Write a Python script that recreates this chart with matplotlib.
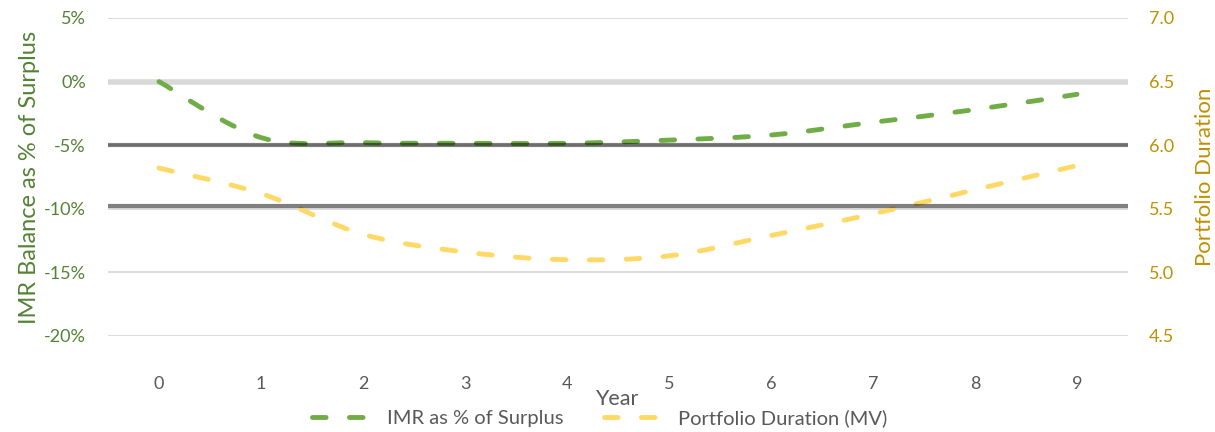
import numpy as np
import matplotlib.pyplot as plt
from matplotlib.path import Path
from matplotlib.patches import PathPatch
from matplotlib.lines import Line2D
from matplotlib.ticker import FuncFormatter

# data
years = [0, 1, 2, 3, 4, 5, 6, 7, 8, 9]
imr_pct_surplus = [0.0, -4.4, -4.8, -4.85, -4.85, -4.6, -4.2, -3.2, -2.2, -1.0]
duration_mv = [5.82, 5.62, 5.30, 5.16, 5.10, 5.13, 5.29, 5.46, 5.65, 5.84]
limit_lines = [-5.0, -9.8]

GREEN = "#70AD47"
GOLD = "#FFD966"
GREEN_TXT = "#548235"
GOLD_TXT = "#BF9000"
GRAY_TXT = "#595959"

plt.rcParams["font.family"] = ["Lato", "DejaVu Sans"]


def smooth_path(x, y):
    # cubic bezier through each point, same style as spreadsheet "smoothed line"
    pts = np.column_stack([x, y]).astype(float)
    n = len(pts)
    verts = [pts[0]]
    codes = [Path.MOVETO]
    for i in range(n - 1):
        p0 = pts[max(i - 1, 0)]
        p1 = pts[i]
        p2 = pts[i + 1]
        p3 = pts[min(i + 2, n - 1)]
        verts += [p1 + (p2 - p0) / 6, p2 - (p3 - p1) / 6, p2]
        codes += [Path.CURVE4] * 3
    return Path(verts, codes)


LW = 3.5
DASH = (0, (2.8, 4.8))

fig = plt.figure(figsize=(12.15, 4.32), dpi=100)
ax = fig.add_axes([108 / 1215, 1 - 336 / 432, (1128 - 108) / 1215, (336 - 18) / 432])
ax2 = ax.twinx()

ax.set_xlim(-0.5, 9.5)
ax.set_ylim(-20, 5)
ax2.set_ylim(4.5, 7.0)

# grid
for v in np.arange(-20, 6, 5):
    if v == 0:
        ax.axhline(v, color="#D9D9D9", lw=4, zorder=1)
    else:
        ax.axhline(v, color="#D2D2D2", lw=1.1, zorder=1)

ax2.add_patch(PathPatch(smooth_path(years, duration_mv), fill=False,
                        edgecolor=GOLD, lw=LW, linestyle=DASH,
                        capstyle="round", zorder=3))
ax2.add_patch(PathPatch(smooth_path(years, imr_pct_surplus), fill=False,
                        edgecolor=GREEN, lw=LW, linestyle=DASH,
                        capstyle="round", zorder=3,
                        transform=ax.transData))

# limit lines drawn over the series
for v in limit_lines:
    ax2.add_line(Line2D([-0.51, 9.55], [v, v], color="black", alpha=0.5,
                        lw=3, zorder=4, transform=ax.transData))

ax2.set_ylim(4.5, 7.0)

for a in (ax, ax2):
    for s in a.spines.values():
        s.set_visible(False)

ax.set_xticks(years)
ax.tick_params(axis="x", length=0, pad=29, labelsize=13, labelcolor=GRAY_TXT)
ax.tick_params(axis="y", length=0, pad=16, labelsize=13, labelcolor=GREEN_TXT)
ax2.tick_params(axis="y", length=0, pad=15, labelsize=13, labelcolor=GOLD_TXT)
ax.set_yticks(np.arange(-20, 6, 5))
ax2.set_yticks(np.arange(4.5, 7.01, 0.5))
ax.yaxis.set_major_formatter(FuncFormatter(lambda v, p: f"{v:.0f}%"))
ax2.yaxis.set_major_formatter(FuncFormatter(lambda v, p: f"{v:.1f}"))

ax.set_ylabel("IMR Balance as % of Surplus", fontsize=17, color=GREEN_TXT, labelpad=3)
ax2.set_ylabel("Portfolio Duration", fontsize=16, color=GOLD_TXT, labelpad=15)

fig.text(617 / 1215, 1 - 399 / 432, "Year", ha="center", va="center",
         fontsize=15.5, color=GRAY_TXT)

handles = [
    Line2D([], [], color=GREEN, lw=LW, linestyle=DASH, dash_capstyle="round"),
    Line2D([], [], color=GOLD, lw=LW, linestyle=DASH, dash_capstyle="round"),
]
fig.legend(handles, ["IMR as % of Surplus", "Portfolio Duration (MV)"],
           loc="center", bbox_to_anchor=(600 / 1215, 1 - 418 / 432), ncol=2,
           frameon=False, fontsize=14.5, handlelength=3.0, columnspacing=2.0,
           labelcolor=GRAY_TXT, borderpad=0, handletextpad=0.7)

fig.savefig("out.png", dpi=100)
